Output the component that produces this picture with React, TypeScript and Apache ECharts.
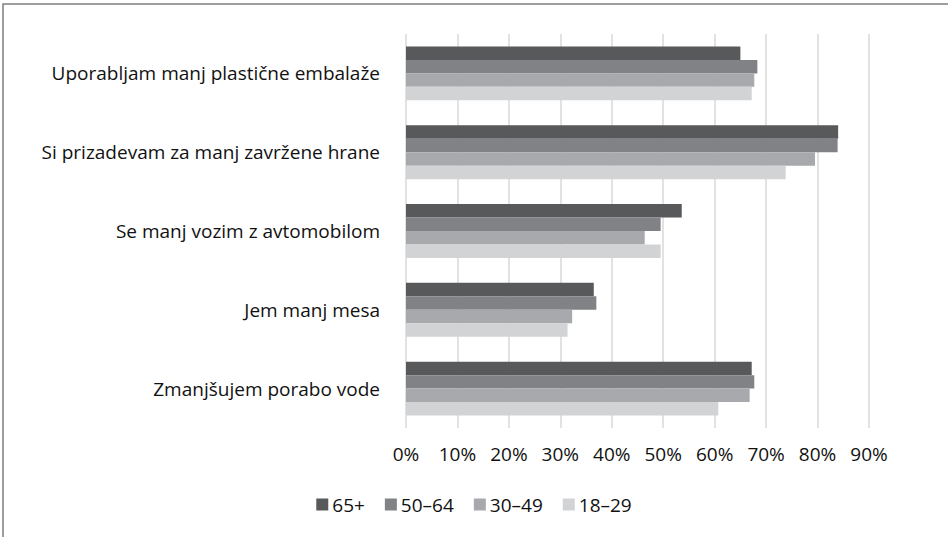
import React, { useEffect, useRef } from "react";
import * as echarts from "echarts";

const categories = [
  "Uporabljam manj plastične embalaže",
  "Si prizadevam za manj zavržene hrane",
  "Se manj vozim z avtomobilom",
  "Jem manj mesa",
  "Zmanjšujem porabo vode",
];
const seriesNames = ["65+", "50–64", "30–49", "18–29"];
const age65plus = [65, 84, 53.6, 36.5, 67.2];
const age50to64 = [68.3, 83.9, 49.5, 37, 67.7];
const age30to49 = [67.7, 79.5, 46.4, 32.3, 66.8];
const age18to29 = [67.2, 73.8, 49.5, 31.4, 60.7];
const colors = ["#58595b", "#808285", "#a7a9ac", "#d1d3d4"];
const xTicksMax = 90;

export default function App() {
  const ref = useRef<HTMLDivElement>(null);
  useEffect(() => {
    if (!ref.current) return;
    const chart = echarts.init(ref.current, null, { renderer: "svg" });
    const font = "'Open Sans', sans-serif";
    const values = [age65plus, age50to64, age30to49, age18to29];
    chart.setOption({
      animation: false,
      backgroundColor: "#ffffff",
      textStyle: { fontFamily: font },
      graphic: [
        {
          type: "rect",
          shape: { x: 3, y: 4, width: 1200, height: 800 },
          style: { fill: "none", stroke: "#7f7f7f", lineWidth: 1.5 },
          silent: true,
        },
      ],
      grid: { left: 406, right: 79, top: 34, bottom: 109 },
      legend: {
        data: seriesNames,
        left: "center",
        top: 490,
        icon: "rect",
        itemWidth: 12,
        itemHeight: 12,
        itemGap: 20,
        textStyle: { fontSize: 19, color: "#111111", fontFamily: font, padding: [0, 0, 0, -1] },
      },
      xAxis: {
        type: "value",
        min: 0,
        max: xTicksMax,
        interval: 10,
        axisLine: { show: false },
        axisTick: { show: false },
        splitLine: { show: true, lineStyle: { color: "#d9d9d9", width: 1.5 } },
        axisLabel: {
          formatter: "{value}%",
          fontSize: 19,
          color: "#111111",
          margin: 16,
          fontFamily: font,
        },
      },
      yAxis: {
        type: "category",
        data: categories,
        inverse: true,
        axisLine: { show: false },
        axisTick: { show: false },
        axisLabel: { fontSize: 19, color: "#111111", margin: 26, fontFamily: font },
      },
      series: seriesNames.map((name, i) => ({
        name,
        type: "bar",
        data: values[i],
        barGap: 0,
        barCategoryGap: "31.6%",
        itemStyle: { color: colors[i] },
      })),
    });
    return () => chart.dispose();
  }, []);
  return (
    <div
      ref={ref}
      style={{ position: "fixed", left: 0, top: 0, width: 948, height: 537 }}
    />
  );
}
